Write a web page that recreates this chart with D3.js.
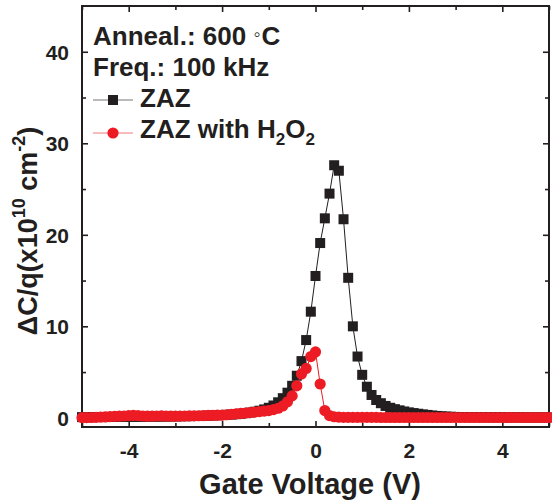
<!DOCTYPE html>
<html>
<head>
<meta charset="utf-8">
<script src="https://cdn.jsdelivr.net/npm/d3@7"></script>
<style>
  html, body { margin: 0; padding: 0; background: #fff; }
  svg { display: block; }
  text { font-family: "Liberation Sans", Arial, sans-serif; font-weight: bold; fill: #231f20; }
</style>
</head>
<body>
<svg id="chart" width="552" height="504"></svg>
<script>
// ---- data ----
const voltage = [-5.0,-4.9,-4.8,-4.7,-4.6,-4.5,-4.4,-4.3,-4.2,-4.1,-4.0,-3.9,-3.8,-3.7,-3.6,-3.5,-3.4,-3.3,-3.2,-3.1,
  -3.0,-2.9,-2.8,-2.7,-2.6,-2.5,-2.4,-2.3,-2.2,-2.1,-2.0,-1.9,-1.8,-1.7,-1.6,-1.5,-1.4,-1.3,-1.2,-1.1,
  -1.0,-0.9,-0.8,-0.7,-0.6,-0.5,-0.4,-0.3,-0.2,-0.1,0.0,0.1,0.2,0.3,0.4,0.5,0.6,0.7,0.8,0.9,
  1.0,1.1,1.2,1.3,1.4,1.5,1.6,1.7,1.8,1.9,2.0,2.1,2.2,2.3,2.4,2.5,2.6,2.7,2.8,2.9,
  3.0,3.1,3.2,3.3,3.4,3.5,3.6,3.7,3.8,3.9,4.0,4.1,4.2,4.3,4.4,4.5,4.6,4.7,4.8,4.9,5.0];

const zaz = [0.08,0.08,0.08,0.09,0.09,0.09,0.10,0.10,0.10,0.11,0.11,0.11,0.12,0.12,0.12,0.13,0.13,0.14,0.14,0.15,
  0.16,0.17,0.18,0.19,0.20,0.21,0.22,0.24,0.26,0.28,0.30,0.33,0.36,0.40,0.45,0.51,0.58,0.67,0.78,0.92,
  1.10,1.35,1.70,2.15,2.75,3.50,4.60,6.20,8.50,11.6,15.5,19.1,21.8,24.5,27.6,27.0,21.7,15.3,10.0,6.70,
  4.70,3.40,2.50,1.95,1.60,1.30,1.10,0.95,0.82,0.70,0.60,0.52,0.45,0.38,0.32,0.26,0.21,0.17,0.14,0.12,
  0.10,0.09,0.09,0.08,0.08,0.08,0.07,0.07,0.07,0.07,0.06,0.06,0.06,0.06,0.06,0.05,0.05,0.05,0.05,0.05,0.05];

const zazH2O2 = [0.02,0.03,0.04,0.06,0.08,0.10,0.13,0.16,0.18,0.20,0.24,0.26,0.24,0.20,0.18,0.18,0.20,0.21,0.19,0.18,
  0.18,0.19,0.20,0.21,0.22,0.23,0.24,0.26,0.27,0.29,0.30,0.34,0.38,0.43,0.48,0.53,0.58,0.63,0.68,0.74,
  0.80,0.90,1.05,1.30,1.75,2.40,3.50,4.80,5.40,6.70,7.20,3.70,0.80,0.25,0.12,0.08,0.06,0.06,0.05,0.05,
  0.05,0.05,0.05,0.05,0.04,0.04,0.04,0.04,0.04,0.04,0.04,0.04,0.04,0.04,0.04,0.04,0.04,0.04,0.04,0.04,
  0.04,0.04,0.04,0.04,0.04,0.04,0.04,0.04,0.04,0.04,0.04,0.04,0.04,0.04,0.04,0.04,0.04,0.04,0.04,0.04,0.04];

const xMajorTicks = [-4, -2, 0, 2, 4];
const xMinorTicks = [-5, -3, -1, 1, 3, 5];
const yMajorTicks = [0, 10, 20, 30, 40];
const yMinorTicks = [5, 15, 25, 35];
const legendTitle1 = "Anneal.: 600 ";
const legendTitle2 = "Freq.: 100 kHz";
const seriesNames = ["ZAZ", "ZAZ with H"];

// ---- chart ----
const svg = d3.select("#chart");
const black = "#231f20", red = "#ed1c24";
const x = d3.scaleLinear().domain([-5, 5]).range([82, 549]);
const y = d3.scaleLinear().domain([-1, 45]).range([427, 6]);

const ink = "#231f20";

function axisG(axis, tx, ty) {
  const g = svg.append("g").attr("transform", `translate(${tx},${ty})`).call(axis);
  g.select(".domain").remove();
  g.selectAll(".tick line").attr("stroke", ink).attr("stroke-width", 1.6);
  return g;
}

// bottom
const gb = axisG(d3.axisBottom(x).tickValues(xMajorTicks).tickSizeInner(-6).tickSizeOuter(0).tickFormat(d => String(d)), 0, 427);
gb.selectAll("text").attr("y", 31).attr("dy", 0).style("font-size", "21px").style("font-family", null).attr("fill", ink);
axisG(d3.axisBottom(x).tickValues(xMinorTicks).tickSizeInner(-4).tickSizeOuter(0).tickFormat(""), 0, 427);
// top
axisG(d3.axisTop(x).tickValues(xMajorTicks).tickSizeInner(-6).tickSizeOuter(0).tickFormat(""), 0, 6);
axisG(d3.axisTop(x).tickValues(xMinorTicks).tickSizeInner(-4).tickSizeOuter(0).tickFormat(""), 0, 6);
// left
const gl = axisG(d3.axisLeft(y).tickValues(yMajorTicks).tickSizeInner(-6).tickSizeOuter(0).tickFormat(d => String(d)), 82, 0);
gl.selectAll("text").attr("x", -13).attr("dy", "0.36em").style("font-size", "21px").style("font-family", null).attr("fill", ink);
axisG(d3.axisLeft(y).tickValues(yMinorTicks).tickSizeInner(-4).tickSizeOuter(0).tickFormat(""), 82, 0);
// right
axisG(d3.axisRight(y).tickValues(yMajorTicks).tickSizeInner(-6).tickSizeOuter(0).tickFormat(""), 549, 0);
axisG(d3.axisRight(y).tickValues(yMinorTicks).tickSizeInner(-4).tickSizeOuter(0).tickFormat(""), 549, 0);

// frame
svg.append("rect").attr("x", 82).attr("y", 6).attr("width", 549 - 82).attr("height", 427 - 6)
  .attr("fill", "none").attr("stroke", ink).attr("stroke-width", 2);

// series
const plot = svg.append("g");
const ptsZ = voltage.map((v, i) => [v, zaz[i]]);
const ptsR = voltage.map((v, i) => [v, zazH2O2[i]]);
const line = d3.line().x(d => x(d[0])).y(d => y(d[1]));

plot.append("path").datum(ptsZ).attr("d", line).attr("fill", "none").attr("stroke", black).attr("stroke-width", 1);
const sq = 10;
plot.selectAll("rect.z").data(ptsZ).join("rect").attr("class", "z")
  .attr("x", d => x(d[0]) - sq / 2).attr("y", d => y(d[1]) - sq / 2)
  .attr("width", sq).attr("height", sq).attr("fill", black);

plot.append("path").datum(ptsR).attr("d", line).attr("fill", "none").attr("stroke", red).attr("stroke-width", 1);
plot.selectAll("circle.r").data(ptsR).join("circle").attr("class", "r")
  .attr("cx", d => x(d[0])).attr("cy", d => y(d[1])).attr("r", 5.6).attr("fill", red);

// legend
const lfs = "26px";
const lg = svg.append("g");
const t1 = lg.append("text").attr("x", 93).attr("y", 45).style("font-size", lfs).text(legendTitle1);
t1.append("tspan").style("font-weight", "normal").style("font-size", "20px").attr("dy", -4).text("\u25E6");
t1.append("tspan").attr("dy", 4).attr("dx", 1).text("C");
lg.append("text").attr("x", 93).attr("y", 76).style("font-size", lfs).text(legendTitle2);

lg.append("line").attr("x1", 93).attr("x2", 133).attr("y1", 100).attr("y2", 100).attr("stroke", "#777").attr("stroke-width", 1.2);
lg.append("rect").attr("x", 113 - sq / 2).attr("y", 100 - sq / 2).attr("width", sq).attr("height", sq).attr("fill", black);
lg.append("text").attr("x", 140).attr("y", 107).style("font-size", lfs).text(seriesNames[0]);

lg.append("line").attr("x1", 93).attr("x2", 133).attr("y1", 133).attr("y2", 133).attr("stroke", "#f07a7e").attr("stroke-width", 1.2);
lg.append("circle").attr("cx", 113).attr("cy", 133).attr("r", 5.6).attr("fill", red);
const t4 = lg.append("text").attr("x", 140).attr("y", 138).style("font-size", lfs).text(seriesNames[1]);
t4.append("tspan").style("font-size", "17px").attr("dy", 7).text("2");
t4.append("tspan").attr("dy", -7).text("O");
t4.append("tspan").style("font-size", "17px").attr("dy", 7).text("2");

// axis titles
svg.append("text").attr("x", 310).attr("y", 494).attr("text-anchor", "middle").style("font-size", "29px").text("Gate Voltage (V)");

const yt = svg.append("text").attr("transform", "translate(37,231) rotate(-90)").attr("text-anchor", "middle").style("font-size", "27px");
yt.append("tspan").text("\u0394C/q(x10");
yt.append("tspan").style("font-size", "18px").attr("dy", -12).text("10");
yt.append("tspan").attr("dy", 12).text(" cm");
yt.append("tspan").style("font-size", "18px").attr("dy", -12).text("-2");
yt.append("tspan").attr("dy", 12).text(")");
</script>
</body>
</html>
